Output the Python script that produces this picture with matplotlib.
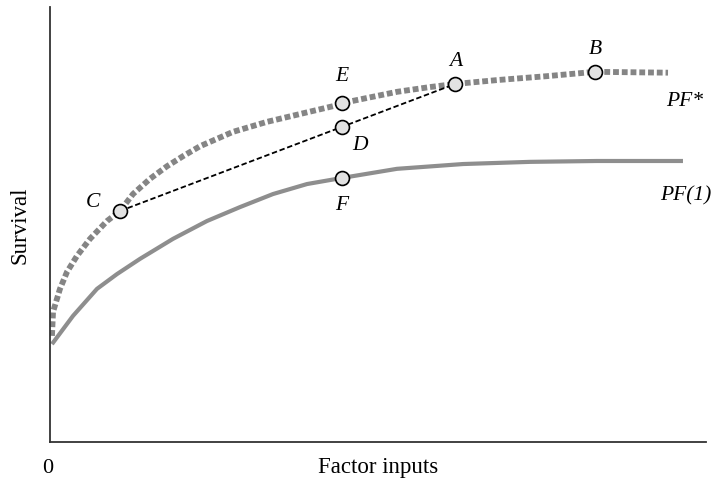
import matplotlib
matplotlib.use("Agg")
import matplotlib.pyplot as plt

# data in axis units (x: 0-100 factor inputs, y: 0-100 survival)
pf_star_x = [0.3, 0.46, 1.52, 2.59, 4.12, 6.1, 8.69, 10.67, 12.65, 15.24, 17.84, 20.27,
             22.87, 27.9, 33.08, 38.11, 43.14, 44.51, 47.71, 52.9, 57.93, 61.74, 68.14,
             75.76, 83.08, 94.21]
pf_star_y = [24.4, 29.9, 35.2, 39.1, 42.8, 46.7, 50.8, 53.1, 57.0, 60.5, 63.4, 65.7,
             68.0, 71.3, 73.6, 75.4, 77.2, 77.9, 78.9, 80.5, 81.6, 82.3, 83.2,
             84.1, 85.1, 84.9]
pf1_x = [0.3, 3.51, 7.16, 10.21, 13.72, 18.75, 23.93, 28.96, 33.99, 39.18, 44.51,
         52.9, 62.96, 73.17, 83.38, 96.49]
pf1_y = [22.5, 29.0, 35.2, 38.6, 42.1, 46.7, 50.8, 54.0, 57.0, 59.3, 60.7,
         62.8, 63.9, 64.4, 64.6, 64.6]

pts = {"C": (10.67, 53.1), "E": (44.51, 77.9), "A": (61.74, 82.3),
       "B": (83.08, 85.1), "D": (44.51, 72.45), "F": (44.51, 60.7)}
chord = ["C", "D", "A"]

fig = plt.figure(figsize=(7.14, 4.89), dpi=100)
ax = fig.add_axes([50 / 714, 46 / 489, 656 / 714, 435 / 489])
ax.set_xlim(0, 100)
ax.set_ylim(0, 100)

ax.plot(pf1_x, pf1_y, color="#8e8e8e", lw=3.0, solid_capstyle="butt",
        solid_joinstyle="round", zorder=2)
ax.plot(pf_star_x, pf_star_y, color="#858585", lw=4.2, dashes=(1.0, 0.5),
        dash_capstyle="butt", zorder=2)
ax.plot([pts[k][0] for k in chord], [pts[k][1] for k in chord],
        color="black", lw=1.3, dashes=(3, 1.5), zorder=3)

for k, (x, y) in pts.items():
    ax.plot(x, y, "o", ms=10, mfc="#e2e2e2", mec="black", mew=1.2, zorder=4)

serif = ["Liberation Serif", "DejaVu Serif"]
lab = dict(family=serif, style="italic", fontsize=15.5, ha="center", va="center")
ax.text(6.5, 55.4, "C", **lab)
ax.text(44.5, 84.2, "E", **lab)
ax.text(47.3, 68.3, "D", **lab)
ax.text(61.9, 87.7, "A", **lab)
ax.text(83.2, 90.5, "B", **lab)
ax.text(44.5, 54.6, "F", **lab)
ax.text(99.5, 78.6, "PF*", **dict(lab, ha="right"))
ax.text(100.8, 56.8, "PF(1)", **dict(lab, ha="right"))

for s in ["top", "right"]:
    ax.spines[s].set_visible(False)
for s in ["left", "bottom"]:
    ax.spines[s].set_color("#333333")
    ax.spines[s].set_linewidth(1.3)
ax.set_xticks([])
ax.set_yticks([])

ax.set_xlabel("Factor inputs", family=serif, fontsize=16.5, labelpad=10)
ax.set_ylabel("Survival", family=serif, fontsize=16.5, labelpad=14)
ax.text(-0.4, -5.8, "0", family=serif, fontsize=16, ha="center", va="center")

fig.savefig("out.png", dpi=100)
